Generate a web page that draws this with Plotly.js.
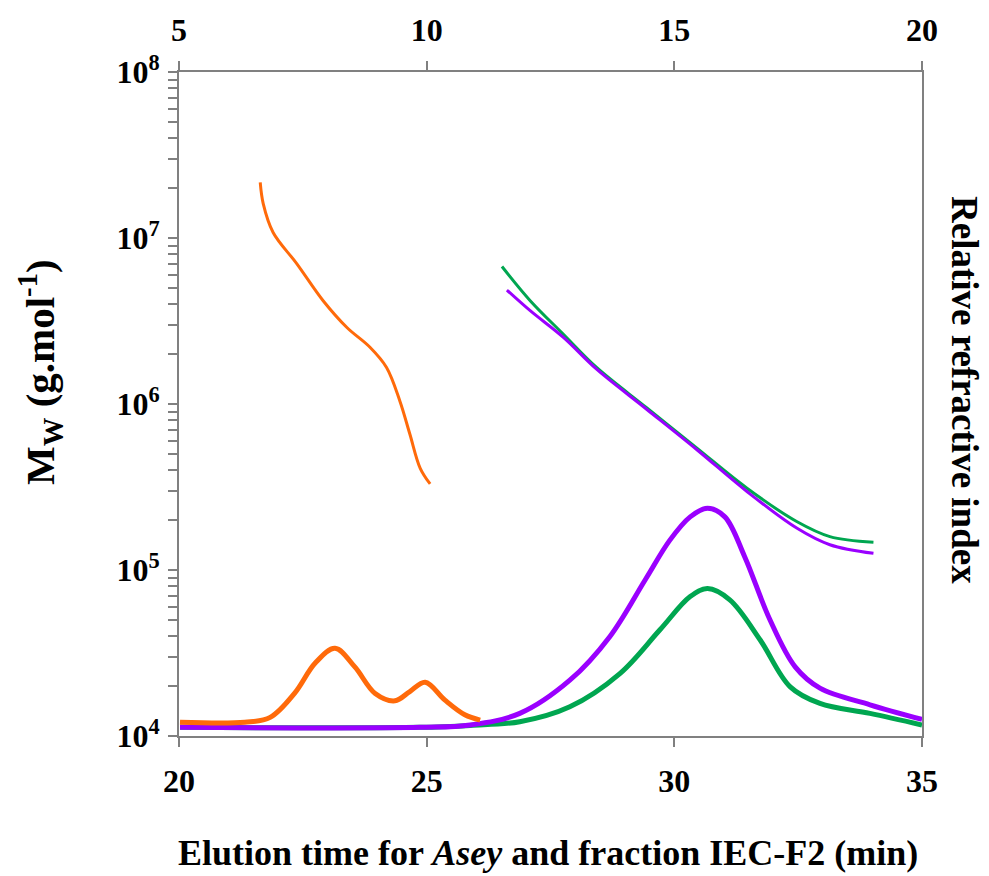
<!DOCTYPE html>
<html>
<head>
<meta charset="utf-8">
<script src="https://cdn.plot.ly/plotly-3.0.1.min.js"></script>
<style>html,body{margin:0;padding:0;background:#fff;}#chart{width:989px;height:876px;}</style>
</head>
<body>
<div id="chart"></div>
<script>
// ---- Data ----
// Orange sample: plotted against the top time axis (min)
var orangeMwTime = [6.64, 6.70, 6.90, 7.38, 7.91, 8.39, 8.86, 9.19, 9.46, 9.66, 9.87, 10.07];
var orangeMw     = [2.16e7, 1.61e7, 1.08e7, 6.99e6, 4.19e6, 2.89e6, 2.19e6, 1.66e6, 1.04e6, 6.6e5, 4.1e5, 3.3e5];
var orangeRITime = [5.02, 6.33, 6.84, 7.34, 7.75, 8.15, 8.55, 8.96, 9.36, 9.66, 9.97, 10.37, 10.77, 11.08];
var orangeRI     = [2.07, 2.07, 2.8, 6.5, 11.0, 13.2, 10.4, 6.4, 5.3, 6.7, 8.1, 5.4, 3.2, 2.4];

// Asey (purple) and IEC-F2 (green): bottom time axis (min)
var mwTime    = [26.62, 27.09, 27.76, 28.43, 29.44, 30.45, 31.46, 32.47, 33.14, 34.02];
var purpleMw  = [4.86e6, 3.65e6, 2.52e6, 1.62e6, 9.3e5, 5.32e5, 2.98e5, 1.79e5, 1.42e5, 1.26e5];
var greenMwTime = [26.52, 27.09, 27.76, 28.43, 29.44, 30.45, 31.46, 32.47, 33.14, 34.02];
var greenMw   = [6.73e6, 4.19e6, 2.63e6, 1.66e6, 9.5e5, 5.44e5, 3.12e5, 1.96e5, 1.59e5, 1.47e5];

var purpleRITime = [20.02, 24.86, 25.88, 26.88, 27.89, 28.70, 29.41, 29.91, 30.32, 30.67, 31.02, 31.42, 31.93, 32.44, 32.94, 33.95, 35.0];
var purpleRI     = [1.3, 1.3, 1.66, 3.4, 8.4, 15.0, 23.5, 29.5, 33.0, 34.3, 33.0, 27.0, 17.5, 10.4, 7.2, 4.7, 2.5];
var greenRITime  = [20.02, 24.86, 25.88, 26.88, 27.89, 28.90, 29.71, 30.32, 30.67, 31.12, 31.73, 32.34, 32.94, 33.95, 35.0];
var greenRI      = [1.3, 1.3, 1.6, 2.15, 4.4, 9.4, 16.0, 21.0, 22.2, 20.5, 14.5, 7.4, 4.9, 3.4, 1.66];

// Tick labels
var bottomTicks = [20, 25, 30, 35];
var topTicks = [5, 10, 15, 20];
var decades = [1e4, 1e5, 1e6, 1e7, 1e8];
var decadeLabels = ['10<sup>4</sup>', '10<sup>5</sup>', '10<sup>6</sup>', '10<sup>7</sup>', '10<sup>8</sup>'];

// ---- Build log ticks (decades labelled, 2..9 unlabelled) ----
var yTickVals = [], yTickText = [];
for (var d = 0; d < decades.length; d++) {
  yTickVals.push(decades[d]); yTickText.push(decadeLabels[d]);
  if (d < decades.length - 1) {
    for (var m = 2; m <= 9; m++) { yTickVals.push(decades[d] * m); yTickText.push(''); }
  }
}

var ORANGE = '#ff6a0a', GREEN = '#00a650', PURPLE = '#9a00ff';
var axisColor = '#808080';
var font = 'Liberation Serif, Times New Roman, serif';

var traces = [
  {x: orangeRITime, y: orangeRI, xaxis: 'x2', yaxis: 'y2', mode: 'lines', line: {color: ORANGE, width: 5, shape: 'spline'}},
  {x: greenRITime, y: greenRI, xaxis: 'x', yaxis: 'y2', mode: 'lines', line: {color: GREEN, width: 5, shape: 'spline'}},
  {x: purpleRITime, y: purpleRI, xaxis: 'x', yaxis: 'y2', mode: 'lines', line: {color: PURPLE, width: 5, shape: 'spline'}},
  {x: orangeMwTime, y: orangeMw, xaxis: 'x2', yaxis: 'y', mode: 'lines', line: {color: ORANGE, width: 3, shape: 'spline'}},
  {x: greenMwTime, y: greenMw, xaxis: 'x', yaxis: 'y', mode: 'lines', line: {color: GREEN, width: 3, shape: 'spline'}},
  {x: mwTime, y: purpleMw, xaxis: 'x', yaxis: 'y', mode: 'lines', line: {color: PURPLE, width: 3, shape: 'spline'}}
];

var tickFont = {family: font, size: 32, color: '#000', weight: 'bold'};

var layout = {
  width: 989, height: 876,
  margin: {l: 179, r: 67, t: 72, b: 140},
  paper_bgcolor: '#fff', plot_bgcolor: '#fff',
  showlegend: false,
  font: {family: font, color: '#000'},
  xaxis: {
    range: [20, 35], tickvals: bottomTicks, ticktext: bottomTicks.map(String),
    ticks: 'outside', ticklen: 9, tickwidth: 2, tickcolor: axisColor,
    showline: true, linecolor: axisColor, linewidth: 2, showgrid: false, zeroline: false,
    tickfont: tickFont, ticklabelstandoff: 7
  },
  xaxis2: {
    range: [5, 20], overlaying: 'x', side: 'top', anchor: 'y',
    tickvals: topTicks, ticktext: topTicks.map(String),
    ticks: 'outside', ticklen: 9, tickwidth: 2, tickcolor: axisColor,
    showline: true, linecolor: axisColor, linewidth: 2, showgrid: false, zeroline: false,
    tickfont: tickFont, ticklabelstandoff: 7
  },
  yaxis: {
    type: 'log', range: [4, 8], tickvals: yTickVals, ticktext: yTickText,
    ticks: 'outside', ticklen: 9, tickwidth: 2, tickcolor: axisColor,
    showline: true, linecolor: axisColor, linewidth: 2, showgrid: false, zeroline: false,
    tickfont: tickFont, ticklabelstandoff: 2
  },
  yaxis2: {
    range: [0, 100], overlaying: 'y', side: 'right', anchor: 'x',
    showticklabels: false, ticks: '',
    showline: true, linecolor: axisColor, linewidth: 2, showgrid: false, zeroline: false
  },
  annotations: [
    {text: 'Elution time for <i>Asey</i> and fraction IEC-F2 (min)', xref: 'paper', yref: 'paper',
     x: 0.496, y: (736 - 853) / 664, showarrow: false, xanchor: 'center', yanchor: 'middle',
     font: {family: font, size: 36, color: '#000', weight: 'bold'}},
    {text: 'M<sub>W</sub> (g.mol<sup>-1</sup>)', xref: 'paper', yref: 'paper',
     x: (40 - 179) / 743, y: (736 - 372) / 664, showarrow: false, textangle: -90,
     xanchor: 'center', yanchor: 'middle',
     font: {family: font, size: 41, color: '#000', weight: 'bold'}},
    {text: 'Relative refractive index', xref: 'paper', yref: 'paper',
     x: (965 - 179) / 743, y: (736 - 390) / 664, showarrow: false, textangle: 90,
     xanchor: 'center', yanchor: 'middle',
     font: {family: font, size: 37, color: '#000', weight: 'bold'}}
  ]
};

Plotly.newPlot('chart', traces, layout, {displayModeBar: false, staticPlot: true});
</script>
</body>
</html>
